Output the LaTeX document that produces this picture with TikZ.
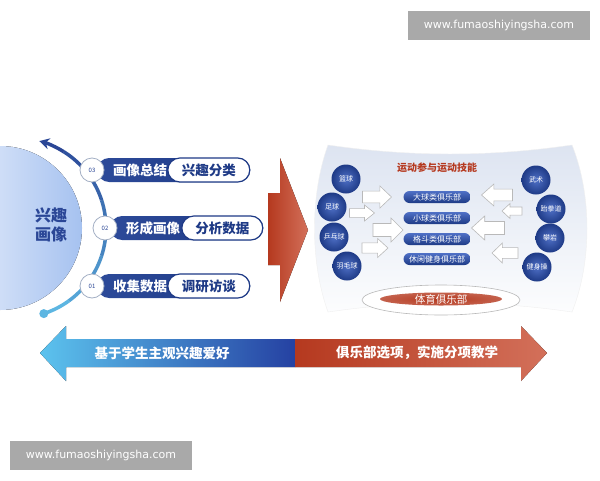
\documentclass[tikz,border=0pt]{standalone}
\usepackage{fontspec}
\setmainfont{Noto Sans CJK SC}
\newfontfamily\urlfont{DejaVu Sans}
\usetikzlibrary{arrows.meta, positioning, shapes.geometric}
\usepackage{xcolor}

\definecolor{navy}{HTML}{1E3A86}
\definecolor{navylight}{HTML}{4F70C6}
\definecolor{arcdark}{HTML}{2A4696}
\definecolor{arclight}{HTML}{5DB6E2}
\definecolor{numgray}{HTML}{A3AFC4}
\definecolor{clubred}{HTML}{B5391F}
\definecolor{clubredlight}{HTML}{D3705A}
\definecolor{skyblue}{HTML}{5CC3EE}
\definecolor{deepblue}{HTML}{2541A2}
\definecolor{panelbg}{HTML}{DDE4F1}
\definecolor{facepale}{HTML}{A6C2F0}
\definecolor{wmgray}{HTML}{A9A9A9}

\begin{document}
\begin{tikzpicture}[
    x=1pt, y=-1pt,
    numdot/.style={circle, fill=white, draw=numgray, line width=0.8pt, minimum size=24, inner sep=0pt, text=arcdark, font=\fontsize{6}{7}\selectfont},
    barbox/.style={rounded corners=12, left color=navy!70!navylight, right color=navy, minimum height=24, inner sep=0pt, anchor=west},
    bartext/.style={text=white, font=\fontsize{13.5}{15}\selectfont\bfseries},
    pill/.style={rounded corners=12, fill=white, draw=navy, line width=1.2pt, minimum height=24, inner sep=0pt, anchor=east, text=navy, font=\fontsize{13.5}{15}\selectfont\bfseries},
    sport node/.style={circle, inner color=navylight, outer color=navy, minimum size=29, inner sep=0pt, text=white, font=\fontsize{7}{8}\selectfont},
    club node/.style={rounded corners=6, top color=navylight, bottom color=navy, minimum width=67, minimum height=12, inner sep=0pt, text=white, font=\fontsize{8}{9}\selectfont},
    whitearrow/.style={fill=white, draw=gray!55, line width=0.6pt},
    wharrow/.pic={\path[whitearrow] (-1,-0.27) -- (0.2,-0.27) -- (0.2,-0.5) -- (1,0) -- (0.2,0.5) -- (0.2,0.27) -- (-1,0.27) -- cycle;},
    bandtext/.style={text=white, font=\fontsize{13.5}{15}\selectfont\bfseries},
    wmark/.style={fill=wmgray, text=white, minimum width=182, minimum height=29, inner sep=0pt, font=\urlfont\fontsize{11}{13}\selectfont}
]
    \useasboundingbox[fill=white] (0,0) rectangle (600,480);

    % watermarks
    \node[wmark] (wm top) at (499,25) {www.fumaoshiyingsha.com};
    \node[wmark] (wm bottom) at (101,455) {www.fumaoshiyingsha.com};

    % left half circle
    \fill[left color=white!90!facepale, right color=facepale] (0,228) circle (82);
    \node[text=arcdark, align=center, font=\fontsize{16}{19}\selectfont\bfseries] (portrait) at (51,225) {兴趣\\画像};

    % arc from light to dark
    \coordinate (ctr) at (16,228);
    \foreach \a/\b/\p in {72/54/0, 54/36/15, 36/18/30, 18/0/45, 0/-18/60, -18/-36/75, -36/-58/90} {
        \draw[line width=3.5pt, arcdark!\p!arclight] ([shift={(\a:90)}]ctr) arc[start angle=\a, end angle=\b, radius=90];
    }
    \draw[line width=3.5pt, arcdark, -{Stealth[length=10, width=11]}] ([shift={(-58:90)}]ctr) arc[start angle=-58, end angle=-75, radius=90];
    \fill[arclight] ([shift={(72:90)}]ctr) circle (4.5);

    % three steps
    \node[barbox, minimum width=153] (bar3) at (97,170) {};
    \node[barbox, minimum width=153] (bar2) at (110,228) {};
    \node[barbox, minimum width=153] (bar1) at (97,286) {};
    \node[numdot] (n3) at (92,170) {03};
    \node[numdot] (n2) at (105,228) {02};
    \node[numdot] (n1) at (92,286) {01};
    \node[bartext] (s3) at (140,170) {画像总结};
    \node[bartext] (s2) at (153,228) {形成画像};
    \node[bartext] (s1) at (140,286) {收集数据};
    \node[pill, minimum width=82] (p3) at (bar3.east) {兴趣分类};
    \node[pill, minimum width=81] (p2) at (bar2.east) {分析数据};
    \node[pill, minimum width=82] (p1) at (bar1.east) {调研访谈};

    % big red arrow
    \fill[left color=clubred, right color=clubredlight] (268,193) -- (280,193) -- (280,158) -- (308,230) -- (280,302) -- (280,265) -- (268,265) -- cycle;

    % right panel
    \path[top color=panelbg, bottom color=white!92!panelbg, draw=gray!12] (328,145) .. controls (410,157) and (490,157) .. (572,145)
        .. controls (592,195) and (592,262) .. (572,312)
        .. controls (490,300) and (410,300) .. (328,312)
        .. controls (310,262) and (310,195) .. (328,145) -- cycle;
    \node[text=clubred, font=\fontsize{10}{12}\selectfont\bfseries] (title) at (437,168) {运动参与运动技能};

    \node[club node] (big ball) at (437,197) {大球类俱乐部};
    \node[club node] (small ball) at (437,218) {小球类俱乐部};
    \node[club node] (fight) at (437,239) {格斗类俱乐部};
    \node[club node] (fitness) at (437,259) {休闲健身俱乐部};

    \node[sport node] (basket) at (346,179) {篮球};
    \node[sport node] (soccer) at (332,207) {足球};
    \node[sport node] (pingpong) at (334,237) {乒乓球};
    \node[sport node] (badminton) at (347,266) {羽毛球};
    \node[sport node] (wushu) at (536,180) {武术};
    \node[sport node] (taekwondo) at (551,209) {跆拳道};
    \node[sport node] (climb) at (550,238) {攀岩};
    \node[sport node] (aerobics) at (537,267) {健身操};

    % white arrows
    \pic[xscale=14.5, yscale=22] at (377,197) {wharrow};
    \pic[xscale=12.5, yscale=16] at (362,213) {wharrow};
    \pic[xscale=15, yscale=24] at (388,230) {wharrow};
    \pic[xscale=13, yscale=19] at (375,248) {wharrow};
    \pic[xscale=-15.5, yscale=22] at (497,195) {wharrow};
    \pic[xscale=-10, yscale=15] at (512,211) {wharrow};
    \pic[xscale=-16.5, yscale=24] at (488,228) {wharrow};
    \pic[xscale=-13, yscale=20] at (505,253) {wharrow};

    % base ellipse
    \node[ellipse, fill=white, draw=gray!55, line width=0.6pt, minimum width=158, minimum height=30] (base) at (441,300) {};
    \node[ellipse, inner color=clubred, outer color=clubred!80!white, minimum width=122, minimum height=13, inner sep=0pt] (club) at (441,299) {};
    \node[text=white, font=\fontsize{10.5}{12}\selectfont] (club label) at (club.center) {体育俱乐部};

    % bottom double arrow
    \fill[left color=skyblue, right color=deepblue] (40,353) -- (66,326) -- (66,339) -- (295,339) -- (295,367) -- (66,367) -- (66,381) -- cycle;
    \fill[left color=clubred, right color=clubredlight] (295,339) -- (521,339) -- (521,326) -- (547,353) -- (521,381) -- (521,367) -- (295,367) -- cycle;
    \node[bandtext] (likes) at (162,353) {基于学生主观兴趣爱好};
    \node[bandtext] (teach) at (417,353) {俱乐部选项，实施分项教学};
\end{tikzpicture}
\end{document}
